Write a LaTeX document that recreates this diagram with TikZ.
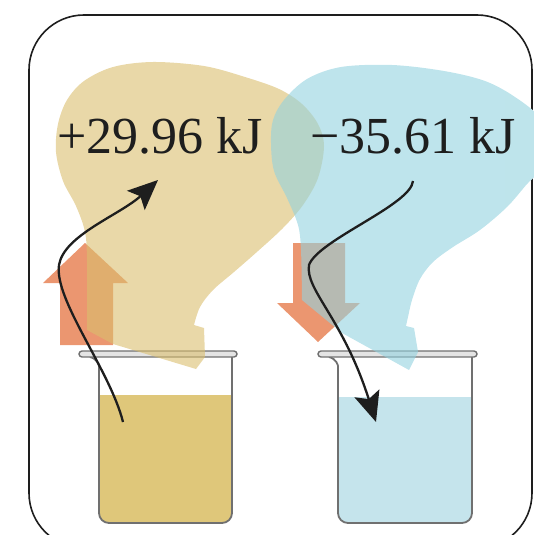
\documentclass[tikz,border=0pt]{standalone}
\usepackage{fontspec}
\setmainfont{Liberation Serif}
\usetikzlibrary{arrows.meta}

\definecolor{tanblob}{RGB}{218,190,110}
\definecolor{blueblob}{RGB}{147,210,223}
\definecolor{tanliq}{RGB}{223,199,122}
\definecolor{blueliq}{RGB}{197,228,236}
\definecolor{heatarrow}{RGB}{235,150,112}
\definecolor{glass}{RGB}{112,112,112}
\definecolor{rimfill}{RGB}{228,228,228}
\definecolor{ink}{RGB}{30,30,30}

\tikzset{
  frame/.style={draw=ink, line width=1.6pt, rounded corners=55pt},
  glasswall/.style={draw=glass, line width=1.8pt, rounded corners=10pt},
  rimbar/.style={draw=glass, fill=rimfill, line width=1.4pt, rounded corners=3pt},
  heat/.style={fill=heatarrow},
  cloud/.style={fill opacity=0.6},
  energy/.style={text=ink, font=\fontsize{52}{60}\selectfont, inner sep=0pt, anchor=base},
  flow/.style={draw=ink, line width=2.3pt, -{Stealth[length=30pt, width=26pt, inset=6pt]}},
}

\begin{document}
\begin{tikzpicture}[x=1pt, y=-1pt]
\clip (0,0) rectangle (534,535);

% outer frame
\draw[frame] (29,15) rectangle (532,548);

% liquids
\begin{scope}
  \clip (0,395) rectangle (534,535);
  \fill[tanliq, rounded corners=10pt] (99,300) rectangle (232,523);
\end{scope}
\begin{scope}
  \clip (0,397) rectangle (534,535);
  \fill[blueliq, rounded corners=10pt] (338,300) rectangle (472,523);
\end{scope}

% beakers
\draw[glasswall] (90,357) .. controls (98,359) and (99,366) .. (99,376) -- (99,523) -- (232,523) -- (232,357);
\draw[rimbar] (79,351) rectangle (237,357);
\draw[glasswall] (329,357) .. controls (337,359) and (338,366) .. (338,376) -- (338,523) -- (472,523) -- (472,357);
\draw[rimbar] (318,351) rectangle (477,357);

% heat arrows
\fill[heat] (60,345) -- (60,283) -- (43,283) -- (85,243) -- (128,283) -- (113,283) -- (113,345) -- cycle;
\fill[heat] (293,243) -- (345,243) -- (345,303) -- (360,303) -- (318,342) -- (277,303) -- (293,303) -- cycle;

% hide the frame where the blue cloud runs over it
\begin{scope}
  \clip (505,0) rectangle (534,535);
  \fill[white] plot[smooth, tension=0.55] coordinates {(302,300) (301,250) (298,225) (287,198) (274,171) (271,143) (273,120) (284,100) (307,79) (341,67) (392,65) (444,71) (485,81) (515,97) (540,118) (548,145) (540,170) (527,184) (507,207) (480,230) (453,247) (433,262) (420,279) (412,300) (408,317) (406,326)} -- cycle;
\end{scope}

% heat clouds
\fill[tanblob, cloud] plot[smooth, tension=0.55] coordinates {(87,330) (87,262) (85,232) (76,206) (63,181) (56,152) (58,124) (67,100) (84,81) (113,67) (153,62) (204,66) (245,77) (279,89) (302,104) (318,124) (324,146) (318,178) (303,205) (283,228) (258,251) (234,272) (213,290) (200,307) (194,325)}
  -- (204,328) -- (205,357) -- (196,369) -- (113,344) -- cycle;
\fill[blueblob, cloud] plot[smooth, tension=0.55] coordinates {(302,300) (301,250) (298,225) (287,198) (274,171) (271,143) (273,120) (284,100) (307,79) (341,67) (392,65) (444,71) (485,81) (515,97) (540,118) (548,145) (540,170) (527,184) (507,207) (480,230) (453,247) (433,262) (420,279) (412,300) (408,317) (406,326)}
  -- (414,328) -- (418,352) -- (409,370) -- (342,333) -- cycle;

% energy labels
\node[energy] (hot) at (160,153) {+29.96 kJ};
\node[energy] (cold) at (413,153) {−35.61 kJ};

% flow of energy
\coordinate (hotliq) at (123,422);
\coordinate (hotbend) at (59,265);
\coordinate (hottip) at (158,180);
\coordinate (coldstart) at (413,181);
\coordinate (coldbend) at (309,265);
\coordinate (coldliq) at (376,422);
\draw[flow] (hotliq) .. controls (110,370) and (54,300) .. (hotbend) .. controls (64,235) and (120,215) .. (hottip);
\draw[flow] (coldstart) .. controls (411,205) and (318,240) .. (coldbend) .. controls (305,290) and (343,318) .. (coldliq);
\end{tikzpicture}
\end{document}
